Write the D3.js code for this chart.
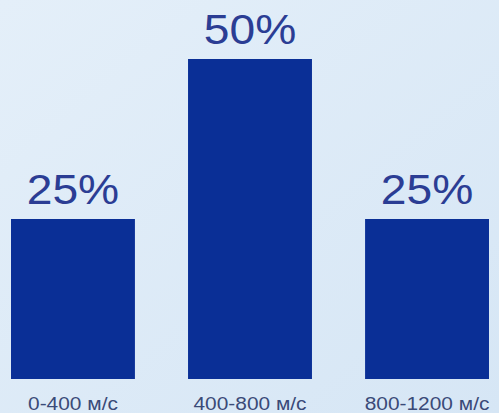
<!DOCTYPE html>
<html><head><meta charset="utf-8">
<script src="https://cdn.jsdelivr.net/npm/d3@7"></script>
<style>html,body{margin:0;padding:0;overflow:hidden;}</style>
</head><body>
<svg id="c" width="499" height="413"></svg>
<script>
const categories = ["0-400 м/с", "400-800 м/с", "800-1200 м/с"];
const values = [25, 50, 25];
const valueLabels = ["25%", "50%", "25%"];

const W = 499, H = 413;
const svg = d3.select("#c");
const defs = svg.append("defs");
const g = defs.append("linearGradient").attr("id","bg").attr("x1","0").attr("y1","0").attr("x2","1").attr("y2","1");
g.append("stop").attr("offset","0").attr("stop-color","#e4eff9");
g.append("stop").attr("offset","1").attr("stop-color","#d6e6f5");
svg.append("rect").attr("width",W).attr("height",H).attr("fill","url(#bg)");

const x = d3.scaleBand().domain(categories).range([11, 489]).paddingInner(0.3).paddingOuter(0);
const y = d3.scaleLinear().domain([0, 50]).range([379, 59]);

svg.selectAll("rect.bar").data(values).join("rect").attr("class","bar")
  .attr("x",(d,i)=>x(categories[i])).attr("y",d=>y(d))
  .attr("width",x.bandwidth()).attr("height",d=>y(0)-y(d))
  .attr("fill","#0a2f96");

svg.selectAll("text.val").data(values).join("text").attr("class","val")
  .attr("transform",(d,i)=>`translate(${x(categories[i])+x.bandwidth()/2},${y(d)-15}) scale(1.1,1)`)
  .attr("text-anchor","middle")
  .style("font-family","'Liberation Sans', Arial, sans-serif").style("font-size","42px")
  .attr("fill","#2b3d94").text((d,i)=>valueLabels[i]);

const xAxis = d3.axisBottom(x).tickSize(0).tickPadding(0);
const ax = svg.append("g").attr("transform","translate(0,379)").call(xAxis);
ax.select(".domain").remove();
ax.selectAll("text")
  .attr("y",0).attr("dy",0)
  .attr("transform","translate(0,31) scale(1.1,1)")
  .style("font-family","'Liberation Sans', Arial, sans-serif").style("font-size","19px")
  .attr("fill","#3a4a78");
ax.selectAll(".tick").each(function(){
  const t = d3.select(this); const tr = t.attr("transform");
});
</script>
</body></html>
